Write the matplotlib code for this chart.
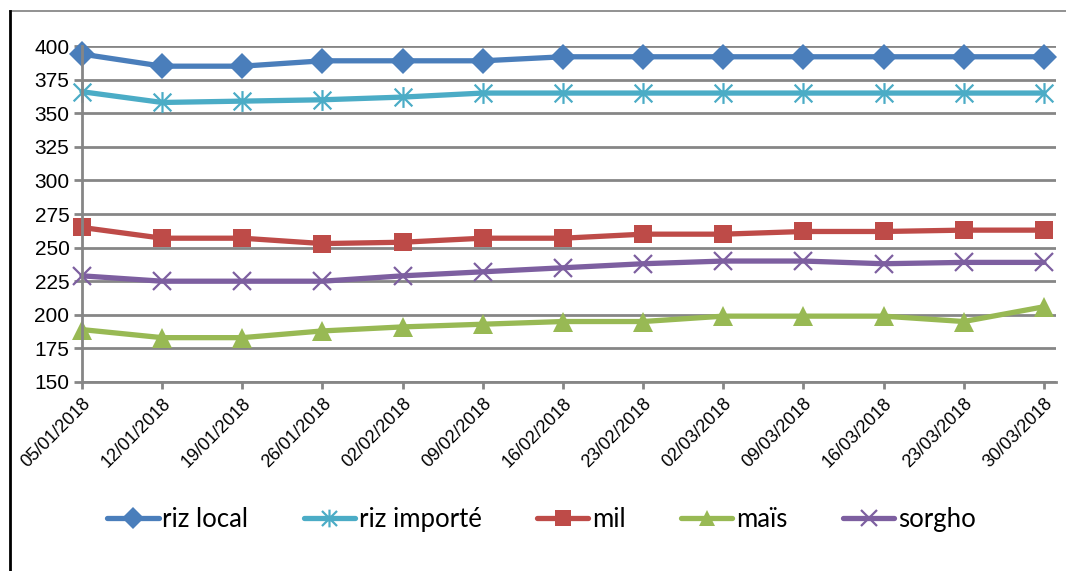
import matplotlib.pyplot as plt
from matplotlib.lines import Line2D
from matplotlib.path import Path

# Weekly prices (FCFA/kg), January - March 2018
dates = ['05/01/2018', '12/01/2018', '19/01/2018', '26/01/2018', '02/02/2018',
         '09/02/2018', '16/02/2018', '23/02/2018', '02/03/2018', '09/03/2018',
         '16/03/2018', '23/03/2018', '30/03/2018']
riz_local = [394, 385, 385, 389, 389, 389, 392, 392, 392, 392, 392, 392, 392]
riz_importe = [366, 358, 359, 360, 362, 365, 365, 365, 365, 365, 365, 365, 365]
mil = [265, 257, 257, 253, 254, 257, 257, 260, 260, 262, 262, 263, 263]
mais = [189, 183, 183, 188, 191, 193, 195, 195, 199, 199, 199, 195, 206]
sorgho = [229, 225, 225, 225, 229, 232, 235, 238, 240, 240, 238, 239, 239]
y_ticks = [150, 175, 200, 225, 250, 275, 300, 325, 350, 375, 400]

# Excel-style star: vertical bar plus an X
star = Path([(0, -1), (0, 1), (-0.85, -0.85), (0.85, 0.85), (-0.85, 0.85), (0.85, -0.85)],
            [Path.MOVETO, Path.LINETO] * 3)

series = [
    ('riz local', riz_local, '#4a7ebb', 'D', 13.5, 0),
    ('riz importé', riz_importe, '#4bacc6', star, 15, 1.6),
    ('mil', mil, '#be4b48', 's', 13, 0),
    ('maïs', mais, '#98b954', '^', 14, 0),
    ('sorgho', sorgho, '#7d5fa0', 'x', 13.5, 1.6),
]

fig = plt.figure(figsize=(10.66, 5.71), dpi=100)
ax = fig.add_axes([0.0769, 0.331, 0.9137, 0.5884])

x = list(range(len(dates)))
for name, vals, color, marker, ms, mew in series:
    ax.plot(x, vals, color=color, linewidth=3.8, marker=marker, markersize=ms,
            markerfacecolor=color, markeredgecolor=color, markeredgewidth=mew,
            label=name, solid_capstyle='round', clip_on=False)

ax.set_ylim(150, 400)
ax.set_xlim(0, 12.15)
ax.set_yticks(y_ticks)
ax.set_xticks(x)
ax.set_xticklabels(dates, rotation=45, ha='right', rotation_mode='anchor',
                   fontsize=13, family='Liberation Sans')
ax.set_yticklabels([str(v) for v in y_ticks], fontsize=15, family='Liberation Sans')

ax.grid(axis='y', color='#868686', linewidth=2)
ax.set_axisbelow(True)
for side in ('top', 'right'):
    ax.spines[side].set_visible(False)
for side in ('left', 'bottom'):
    ax.spines[side].set_color('#868686')
    ax.spines[side].set_linewidth(2)
ax.tick_params(axis='y', length=6, width=2, color='#868686', pad=3)
ax.tick_params(axis='x', length=5, width=2, color='#868686', pad=4)

handles = [Line2D([], [], color=c, linewidth=3.8, marker=m, markersize=ms * 0.85,
                  markerfacecolor=c, markeredgecolor=c, markeredgewidth=mew,
                  solid_capstyle='round')
           for _, _, c, m, ms, mew in series]
fig.legend(handles, [s[0] for s in series], loc='center', ncol=5,
           bbox_to_anchor=(0.508, 0.09), frameon=False,
           prop={'family': 'Lato', 'size': 18.5}, handlelength=2.0,
           columnspacing=2.15, handletextpad=0.15)

# chart frame
fig.add_artist(Line2D([0.0094, 1.0], [0.981, 0.981], color='#7f7f7f', linewidth=1.2))
fig.add_artist(Line2D([0.0094, 0.0094], [0.0, 0.981], color='black', linewidth=2))

fig.savefig('out.png', dpi=100)
